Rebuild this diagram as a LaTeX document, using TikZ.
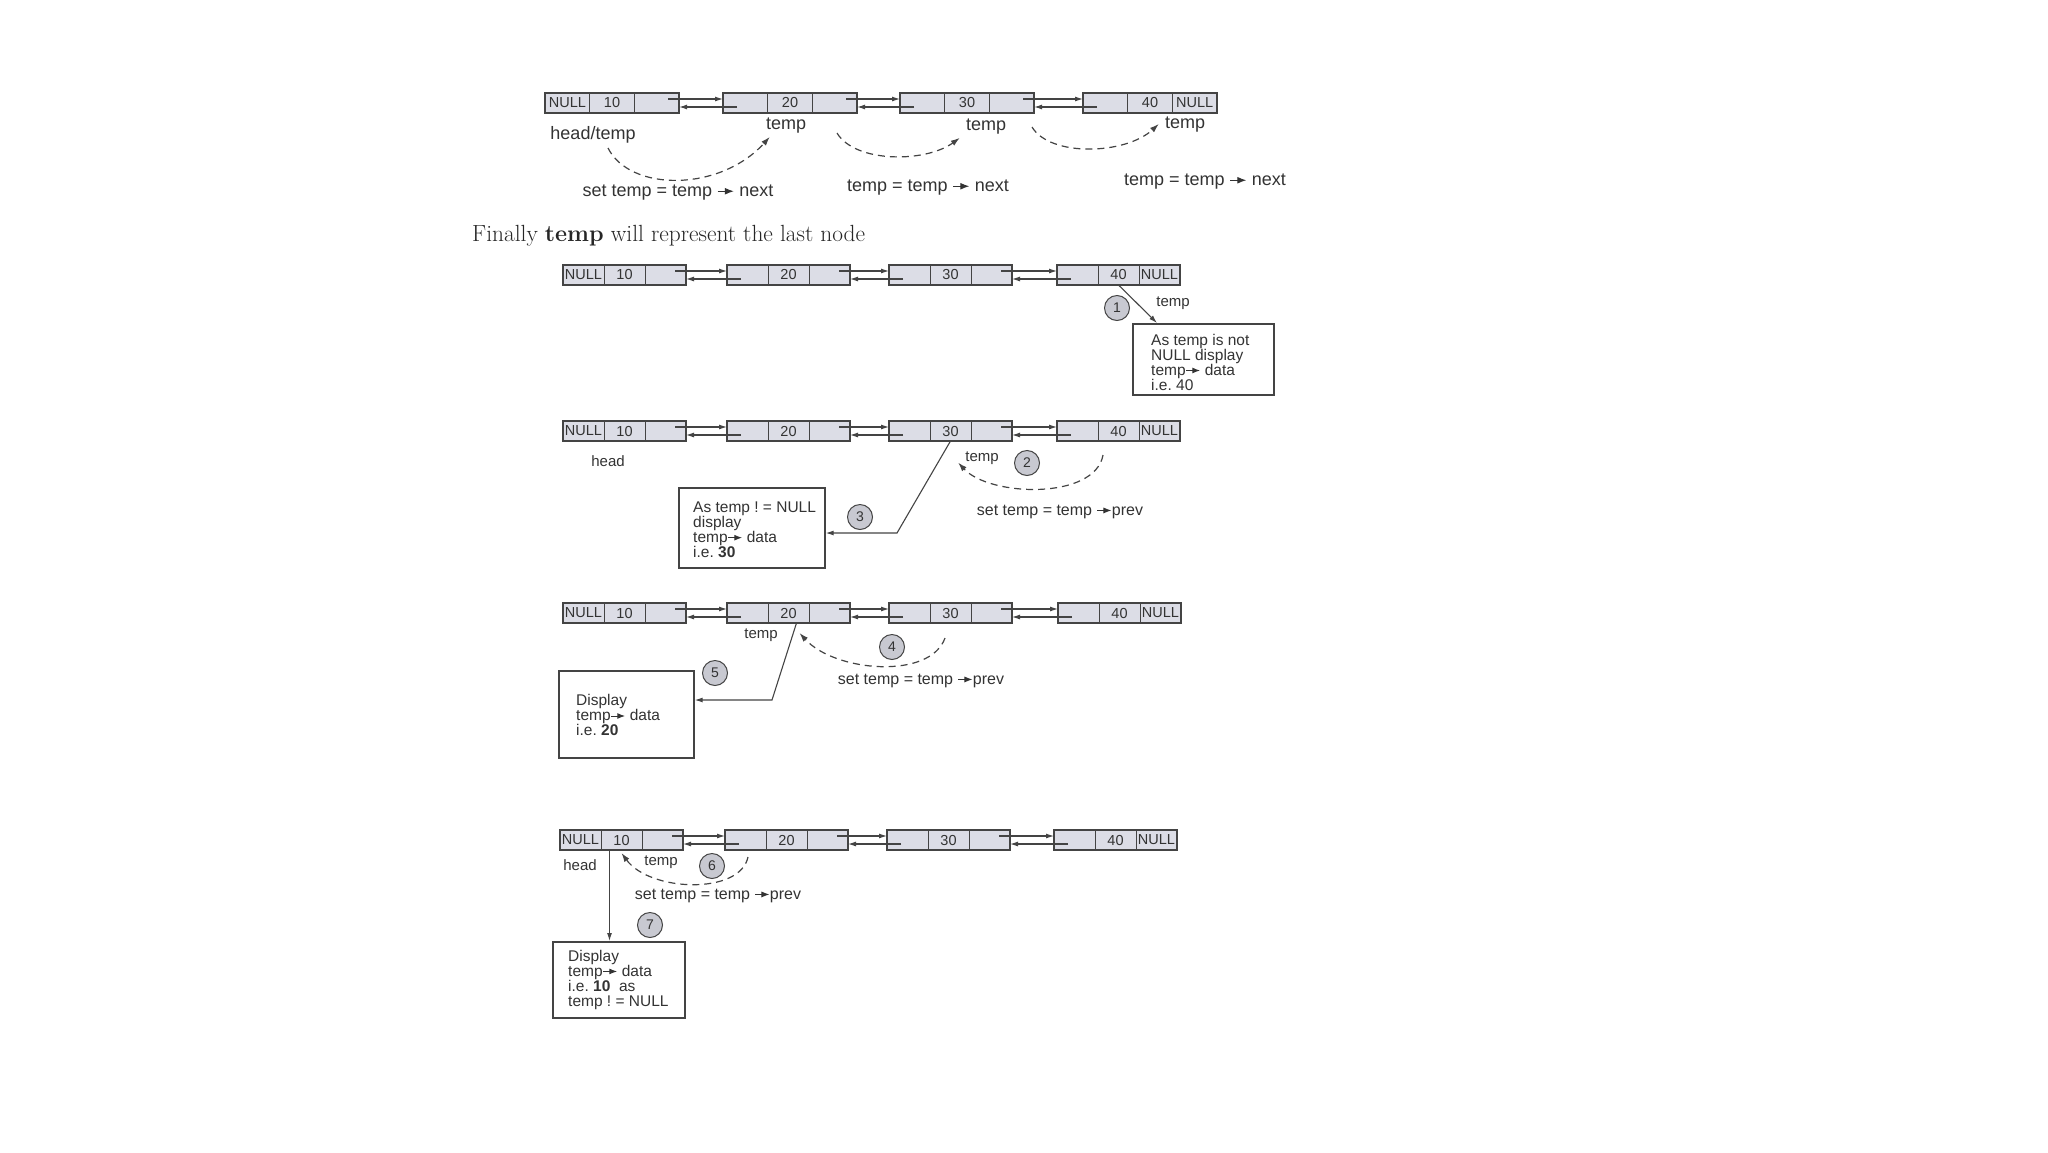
\documentclass[tikz,border=0pt]{standalone}
\usepackage{fontspec}
\usepackage{xcolor}
\usetikzlibrary{positioning,arrows.meta}
\newfontfamily\sansfont{Liberation Sans}
\definecolor{ink}{HTML}{444444}
\definecolor{cellfill}{HTML}{DCDDE6}
\definecolor{circfill}{HTML}{C8C9D1}
\definecolor{txt}{HTML}{333333}
\newcommand{\ptr}{\tikz[baseline=-0.6ex]\draw[line width=0.06em,-{Latex[length=0.5em,width=0.38em]}] (0,0) -- (0.9em,0);}
\frenchspacing

\begin{document}
\begin{tikzpicture}[x=1pt,y=-1pt]
\tikzset{cell/.style={draw=ink, line width=0.8pt, fill=cellfill, minimum width=41pt, minimum height=20pt, inner sep=0pt, outer sep=0pt, font=\sansfont\fontsize{14.5}{14.5}\selectfont, text=txt},
	outline/.style={draw=ink, line width=1.8pt},
	link/.style={draw=ink, line width=1.1pt, -{Latex[length=8pt,width=5pt]}},
	hop/.style={draw=ink, line width=1.2pt, dash pattern=on 7pt off 5pt, -{Latex[length=9pt,width=6pt]}},
	lblA/.style={font=\sansfont\fontsize{18}{18}\selectfont, text=txt, inner sep=1pt},
	lblB/.style={font=\sansfont\fontsize{15}{15}\selectfont, text=txt, inner sep=1pt},
	cmd/.style={font=\sansfont\fontsize{16}{16}\selectfont, text=txt, inner sep=1pt},
	stepno/.style={circle, draw=ink, line width=1pt, fill=circfill, minimum size=25pt, inner sep=0pt, font=\sansfont\fontsize{14}{14}\selectfont, text=txt},
	infobox/.style={draw=ink, line width=1.7pt, fill=white, anchor=north west, inner sep=0pt},
	boxtext/.style={anchor=west, align=left, inner sep=0pt, font=\sansfont\fontsize{15.5}{15}\selectfont, text=txt}}
\fill[white] (0,0) rectangle (2048,1152);
\useasboundingbox (0,0) rectangle (2048,1152);

% the five copies of the list
\foreach \r/\y/\w/\xa/\xb/\xc/\xd in {a/103/44.7/545/723/900/1083, b/275/41/563/727/889/1057, c/431/41/563/727/889/1057, d/613/41/563/727/889/1058, e/840/41/560/725/887/1054} {
	\foreach \i/\x/\lt/\dt/\rt in {1/\xa/NULL/10/{}, 2/\xb/{}/20/{}, 3/\xc/{}/30/{}, 4/\xd/{}/40/NULL} {
		\node[cell, minimum width=\w pt, anchor=west] (\r\i-l) at (\x,\y) {\lt};
		\node[cell, minimum width=\w pt, right=0pt of \r\i-l] (\r\i-d) {\dt};
		\node[cell, minimum width=\w pt, right=0pt of \r\i-d] (\r\i-r) {\rt};
		\draw[outline] (\r\i-l.north west) rectangle (\r\i-r.south east);
	}
	\foreach \i/\j in {1/2,2/3,3/4} {
		\draw[link] ([xshift=-11pt,yshift=4pt]\r\i-r.east) -- ([yshift=4pt]\r\j-l.west);
		\draw[link] ([xshift=14pt,yshift=-4pt]\r\j-l.west) -- ([yshift=-4pt]\r\i-r.east);
	}
}

% moving temp forward
\node[lblA] (ht) at (593,135) {head/temp};
\node[lblA] (t2) at (786,126) {temp};
\node[lblA] (t3) at (986,127) {temp};
\node[lblA] (t4) at (1185,125) {temp};
\coordinate (s1) at (608,148);
\coordinate (s2) at (837,133);
\coordinate (s3) at (1032,127);
\draw[hop] (s1) .. controls (630,192) and (720,192) .. ([xshift=5pt,yshift=-2pt]t2.south west);
\draw[hop] (s2) .. controls (855,163) and (925,163) .. ([xshift=-5pt,yshift=-2pt]t3.south west);
\draw[hop] (s3) .. controls (1050,157) and (1125,155) .. ([xshift=-5pt,yshift=1pt]t4.west);
\node[lblA] (c1) at (678,193) {set temp = temp \ptr{} next};
\node[lblA] (c2) at (928,188) {temp = temp \ptr{} next};
\node[lblA] (c3) at (1205,182) {temp = temp \ptr{} next};

\node[anchor=west, inner sep=0pt, text=black!85, font=\fontsize{23.4}{24}\selectfont] (fin) at (472,236) {Finally \textbf{temp} will represent the last node};

% step 1
\node[stepno] (n1) at (1117,308) {1};
\node[lblB] (bt) at (1173,303) {temp};
\node[infobox, minimum width=141pt, minimum height=71pt] (box1) at (1132,323) {};
\node[boxtext] (box1t) at ([xshift=19pt,yshift=-3pt]box1.west) {As temp is not\\NULL display\\temp\ptr{} data\\i.e. 40};
\draw[link] (b4-d.south) -- ([xshift=25pt]box1.north west);

% steps 2 and 3
\node[lblB] (ch) at (608,461) {head};
\node[lblB] (ct) at (982,458) {temp};
\node[stepno] (n2) at (1027,463) {2};
\coordinate (s4) at (1103,455);
\draw[hop] (s4) .. controls (1095,500) and (990,497) .. ([xshift=-6pt,yshift=3pt]ct.south west);
\node[cmd] (cc) at (1060,512) {set temp = temp \ptr{}prev};
\node[infobox, minimum width=146pt, minimum height=80pt] (box2) at (678,487) {};
\node[boxtext] (box2t) at ([xshift=15pt,yshift=-2pt]box2.west) {As temp ! = NULL\\display\\temp\ptr{} data\\i.e. \textbf{30}};
\coordinate (k3) at (897,533);
\draw[link] (c3-d.south) -- (k3) -- (k3 -| box2.east);
\node[stepno] (n3) at (860,517) {3};

% steps 4 and 5
\node[lblB] (dt) at (761,635) {temp};
\node[stepno] (n4) at (892,647) {4};
\coordinate (s5) at (945,638);
\draw[hop] (s5) .. controls (930,680) and (835,672) .. ([xshift=11pt,yshift=-10pt]d2-d.south);
\node[cmd] (dc) at (921,681) {set temp = temp \ptr{}prev};
\node[infobox, minimum width=135pt, minimum height=87pt] (box3) at (558,670) {};
\node[boxtext] (box3t) at ([xshift=18pt,yshift=-1pt]box3.west) {Display\\temp\ptr{} data\\i.e. \textbf{20}};
\coordinate (k5) at (772,700);
\draw[link] ([xshift=8pt]d2-d.south) -- (k5) -- (k5 -| box3.east);
\node[stepno] (n5) at (715,673) {5};

% steps 6 and 7
\node[lblB] (eh) at (580,865) {head};
\node[lblB] (et) at (661,862) {temp};
\node[stepno] (n6) at (712,866) {6};
\coordinate (s6) at (748,857);
\draw[hop] (s6) .. controls (740,895) and (650,892) .. ([yshift=-3pt]e1-d.south);
\node[cmd] (ec) at (718,896) {set temp = temp \ptr{}prev};
\node[infobox, minimum width=132pt, minimum height=76pt] (box4) at (552,941) {};
\node[boxtext] (box4t) at ([xshift=16pt]box4.west) {Display\\temp\ptr{} data\\i.e. \textbf{10}~ as\\temp ! = NULL};
\draw[link] ([xshift=-12pt]e1-d.south) -- ([xshift=-12pt]e1-d.south |- box4.north);
\node[stepno] (n7) at (650,925) {7};
\end{tikzpicture}
\end{document}
